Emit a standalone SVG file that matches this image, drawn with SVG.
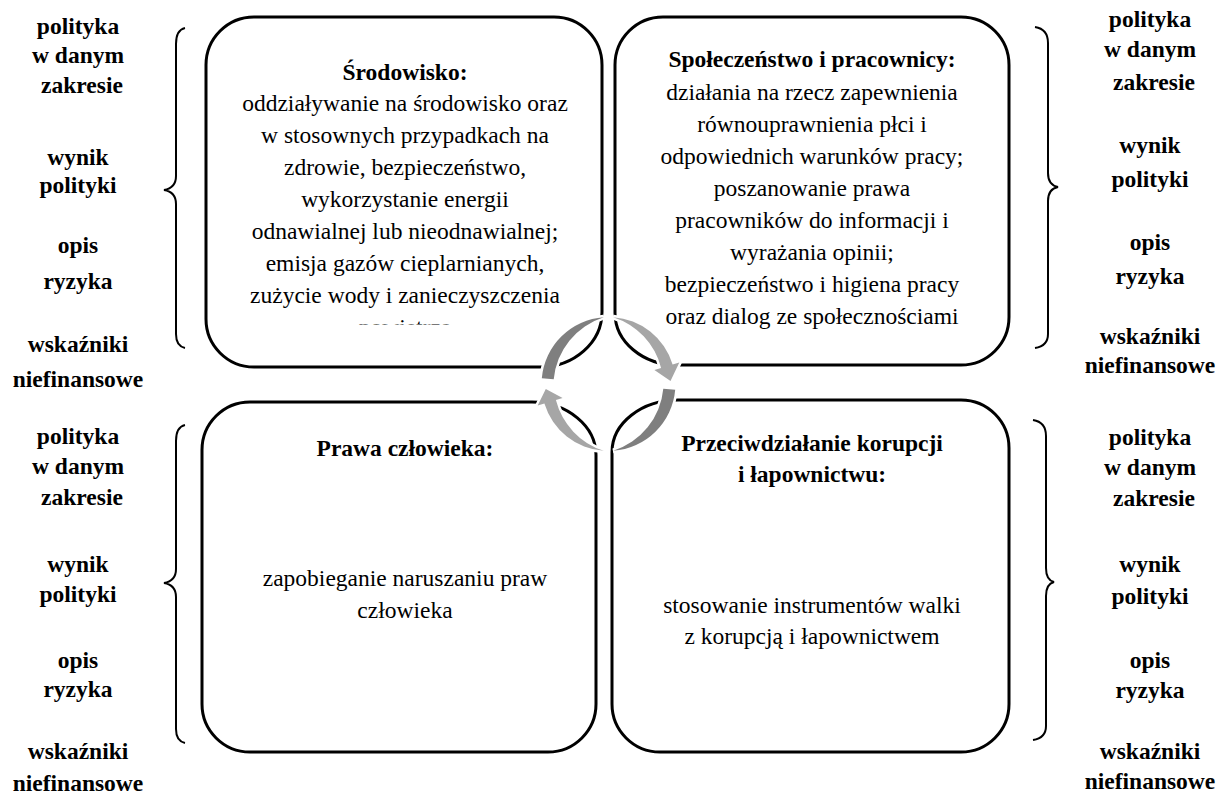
<svg xmlns="http://www.w3.org/2000/svg" width="1224" height="795" viewBox="0 0 1224 795">
<style>
.box{fill:#fff;stroke:#000;stroke-width:3}
.brace{fill:none;stroke:#000;stroke-width:2}
.side{font-family:"Liberation Serif",serif;font-weight:bold;font-size:23.5px;text-anchor:middle;fill:#000}
.t{font-family:"Liberation Serif",serif;font-size:23.5px;text-anchor:middle;fill:#000}
.tb{font-weight:bold}
.dark{fill:#7f7f7f;stroke:#fff;stroke-width:5;paint-order:stroke}
.light{fill:#a6a6a6;stroke:#fff;stroke-width:5;paint-order:stroke}
</style>
<defs>
<clipPath id="clipTL"><rect x="200" y="0" width="420" height="324.5"/></clipPath>
</defs>
<rect width="1224" height="795" fill="#fff"/>

<g id="node-srodowisko">
<path class="box" d="M254,17 H554 A48,48 0 0 1 602,65 V312 A62,55 0 0 1 540,367 H254 A48,48 0 0 1 206,319 V65 A48,48 0 0 1 254,17 Z"/>
<g clip-path="url(#clipTL)">
<text class="t tb" x="405" y="80">Środowisko:</text>
<text class="t" x="405" y="111">oddziaływanie na środowisko oraz</text>
<text class="t" x="405" y="143">w stosownych przypadkach na</text>
<text class="t" x="405" y="175">zdrowie, bezpieczeństwo,</text>
<text class="t" x="405" y="207">wykorzystanie energii</text>
<text class="t" x="405" y="239">odnawialnej lub nieodnawialnej;</text>
<text class="t" x="405" y="271">emisja gazów cieplarnianych,</text>
<text class="t" x="405" y="303">zużycie wody i zanieczyszczenia</text>
<text class="t" x="405" y="334.5">powietrza</text>
</g>
</g>

<g id="node-spoleczenstwo">
<path class="box" d="M663,17 H961 A48,48 0 0 1 1009,65 V317 A48,48 0 0 1 961,365 H677 A62,52 0 0 1 615,313 V65 A48,48 0 0 1 663,17 Z"/>
<text class="t tb" x="812" y="67">Społeczeństwo i pracownicy:</text>
<text class="t" x="812" y="100">działania na rzecz zapewnienia</text>
<text class="t" x="812" y="132">równouprawnienia płci i</text>
<text class="t" x="812" y="164">odpowiednich warunków pracy;</text>
<text class="t" x="812" y="196">poszanowanie prawa</text>
<text class="t" x="812" y="228">pracowników do informacji i</text>
<text class="t" x="812" y="260">wyrażania opinii;</text>
<text class="t" x="812" y="292">bezpieczeństwo i higiena pracy</text>
<text class="t" x="812" y="324">oraz dialog ze społecznościami</text>
</g>

<g id="node-prawa">
<path class="box" d="M250,402 H532 A65,53 0 0 1 596,455 V704 A48,48 0 0 1 548,752 H250 A48,48 0 0 1 202,704 V450 A48,48 0 0 1 250,402 Z"/>
<text class="t tb" x="405" y="456">Prawa człowieka:</text>
<text class="t" x="405" y="586">zapobieganie naruszaniu praw</text>
<text class="t" x="405" y="618">człowieka</text>
</g>

<g id="node-korupcja">
<path class="box" d="M678,400 H961 A48,48 0 0 1 1009,448 V704 A48,48 0 0 1 961,752 H660 A48,48 0 0 1 612,704 V452 A66,52 0 0 1 678,400 Z"/>
<text class="t tb" x="812" y="451">Przeciwdziałanie korupcji</text>
<text class="t tb" x="812" y="482">i łapownictwu:</text>
<text class="t" x="812" y="613">stosowanie instrumentów walki</text>
<text class="t" x="812" y="644">z korupcją i łapownictwem</text>
</g>

<g id="connectors">
<path class="dark" d="M603.8,317.2 A67,67 0 0 0 541.8,378.2 L553.7,379.2 A72,72 0 0 1 603.8,317.2 Z"/>
<path class="light" d="M613.2,317.2 A67,67 0 0 1 672.6,364.4 L679.3,362.4 L670.5,381 L654.4,370 L661.1,367.9 A72,72 0 0 0 613.2,317.2 Z"/>
<path class="dark" d="M613.2,450.8 A67,67 0 0 0 675.2,389.8 L663.3,388.8 A72,72 0 0 1 613.2,450.8 Z"/>
<path class="light" d="M603.8,450.8 A67,67 0 0 1 544.4,403.6 L537.7,405.6 L545.8,389 L562.6,398 L555.9,400.1 A72,72 0 0 0 603.8,450.8 Z"/>
</g>

<g id="brace-left-top">
<path class="brace" d="M185,28 Q176,30 176,44 L176,176 Q176,188 164,190 Q176,192 176,204 L176,334 Q176,346 185,348"/>
<text class="side" x="78" y="34">polityka</text>
<text class="side" x="78" y="63">w danym</text>
<text class="side" x="82" y="93">zakresie</text>
<text class="side" x="78" y="165">wynik</text>
<text class="side" x="78" y="193">polityki</text>
<text class="side" x="78" y="253">opis</text>
<text class="side" x="78" y="289">ryzyka</text>
<text class="side" x="78" y="352">wskaźniki</text>
<text class="side" x="78" y="387">niefinansowe</text>
</g>

<g id="brace-right-top">
<path class="brace" d="M1035,27 Q1048,29 1048,43 L1048,173 Q1048,185 1058,187 Q1048,189 1048,201 L1048,334 Q1048,346 1035,348"/>
<text class="side" x="1150" y="27">polityka</text>
<text class="side" x="1150" y="57">w danym</text>
<text class="side" x="1154" y="90">zakresie</text>
<text class="side" x="1150" y="153">wynik</text>
<text class="side" x="1150" y="187">polityki</text>
<text class="side" x="1150" y="250">opis</text>
<text class="side" x="1150" y="284">ryzyka</text>
<text class="side" x="1150" y="344">wskaźniki</text>
<text class="side" x="1150" y="373">niefinansowe</text>
</g>

<g id="brace-left-bottom">
<path class="brace" d="M185,425 Q176,427 176,441 L176,569 Q176,581 164,583 Q176,585 176,597 L176,729 Q176,741 185,743"/>
<text class="side" x="78" y="444">polityka</text>
<text class="side" x="78" y="474">w danym</text>
<text class="side" x="82" y="505">zakresie</text>
<text class="side" x="78" y="572">wynik</text>
<text class="side" x="78" y="602">polityki</text>
<text class="side" x="78" y="668">opis</text>
<text class="side" x="78" y="697">ryzyka</text>
<text class="side" x="78" y="759">wskaźniki</text>
<text class="side" x="78" y="791">niefinansowe</text>
</g>

<g id="brace-right-bottom">
<path class="brace" d="M1033,420 Q1046,422 1046,436 L1046,568 Q1046,580 1054,582 Q1046,584 1046,596 L1046,726 Q1046,738 1033,740"/>
<text class="side" x="1150" y="445">polityka</text>
<text class="side" x="1150" y="475">w danym</text>
<text class="side" x="1154" y="506">zakresie</text>
<text class="side" x="1150" y="572">wynik</text>
<text class="side" x="1150" y="604">polityki</text>
<text class="side" x="1150" y="668">opis</text>
<text class="side" x="1150" y="698">ryzyka</text>
<text class="side" x="1150" y="759">wskaźniki</text>
<text class="side" x="1150" y="789">niefinansowe</text>
</g>
</svg>
